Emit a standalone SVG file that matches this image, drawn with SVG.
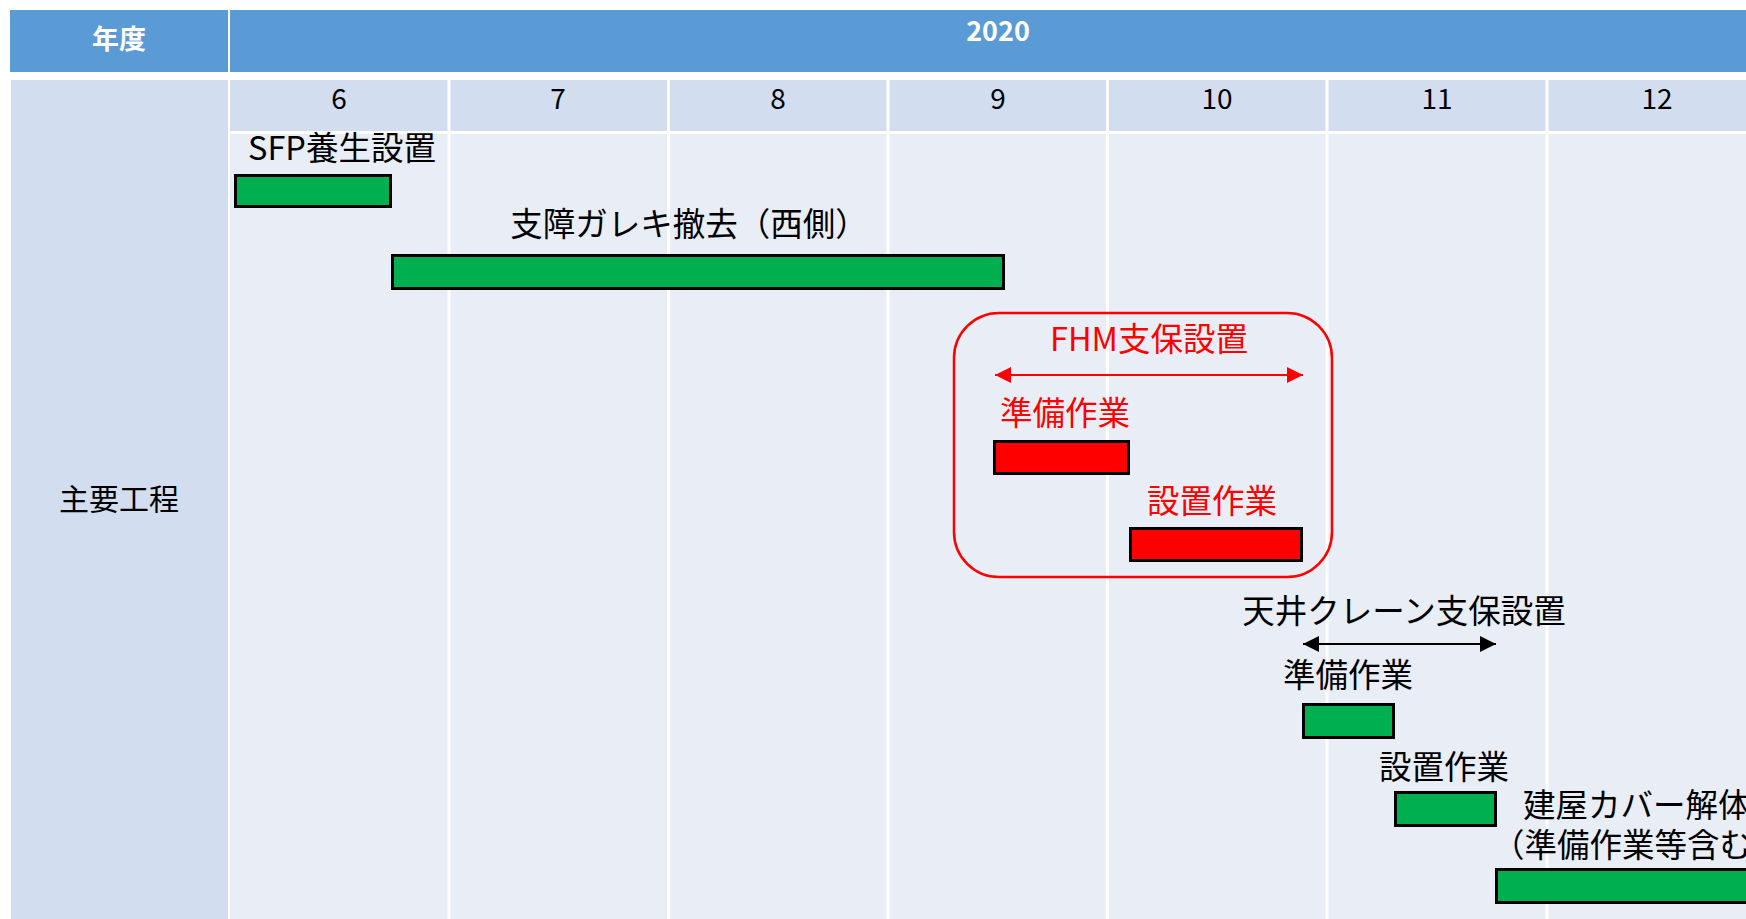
<svg xmlns="http://www.w3.org/2000/svg" width="1746" height="919" viewBox="0 0 1746 919">
<defs>
<style>
text{font-family:"Noto Sans CJK JP","Noto Sans",sans-serif;dominant-baseline:central}
.hd{fill:#FFFFFF;font-weight:bold;font-size:27px;text-anchor:middle}
.mo{fill:#000000;font-size:28px;text-anchor:middle}
.lb{fill:#000000;font-size:32.5px;text-anchor:middle}
.lbs{fill:#000000;font-size:32.5px}
.rl{fill:#FF0000;font-size:32.5px;text-anchor:middle}
.gb{fill:#00B050;stroke:#000000;stroke-width:3}
.rb{fill:#FF0000;stroke:#000000;stroke-width:3}
.grid{stroke:#FFFFFF;stroke-width:3}
</style>
<marker id="ar" viewBox="0 0 16 16" refX="16" refY="8" markerWidth="16" markerHeight="16" markerUnits="userSpaceOnUse" orient="auto-start-reverse"><path d="M0,0 L16,8 L0,16 Z" fill="#FF0000"/></marker>
<marker id="ab" viewBox="0 0 16 16" refX="16" refY="8" markerWidth="16" markerHeight="16" markerUnits="userSpaceOnUse" orient="auto-start-reverse"><path d="M0,0 L16,8 L0,16 Z" fill="#000000"/></marker>
</defs>
<rect x="0" y="0" width="1746" height="919" fill="#FFFFFF"/>
<g id="table">
<rect x="10" y="10" width="218" height="62" fill="#5B9BD5"/>
<rect x="230" y="10" width="1516" height="62" fill="#5B9BD5"/>
<rect x="11" y="80" width="217" height="839" fill="#D2DEEF"/>
<rect x="230" y="80" width="1516" height="51" fill="#D2DEEF"/>
<rect x="230" y="134" width="1516" height="785" fill="#E9EDF6"/>
<g class="grid">
<line x1="449" y1="80" x2="449" y2="919"/>
<line x1="668.5" y1="80" x2="668.5" y2="919"/>
<line x1="888" y1="80" x2="888" y2="919"/>
<line x1="1107.5" y1="80" x2="1107.5" y2="919"/>
<line x1="1327" y1="80" x2="1327" y2="919"/>
<line x1="1547" y1="80" x2="1547" y2="919"/>
</g>
<text class="hd" x="119" y="37">年度</text>
<text class="hd" x="998" y="29">2020</text>
<text class="mo" x="339" y="97">6</text>
<text class="mo" x="558" y="97">7</text>
<text class="mo" x="778" y="97">8</text>
<text class="mo" x="998" y="97">9</text>
<text class="mo" x="1217" y="97">10</text>
<text class="mo" x="1437" y="97">11</text>
<text class="mo" x="1657" y="97">12</text>
<text class="lb" x="119" y="497" style="font-size:30px">主要工程</text>
</g>
<g id="sfp">
<text class="lb" x="342" y="145">SFP養生設置</text>
<rect class="gb" x="235.5" y="175.5" width="155" height="31"/>
</g>
<g id="garekiw">
<text class="lb" x="689" y="221">支障ガレキ撤去（西側）</text>
<rect class="gb" x="392.5" y="255.5" width="611" height="33"/>
</g>
<g id="fhm">
<rect x="954" y="313" width="378" height="264" rx="45" ry="45" fill="none" stroke="#FF0000" stroke-width="2.5"/>
<text class="rl" x="1149" y="336">FHM支保設置</text>
</g>
<g id="fhm-prep">
<text class="rl" x="1065" y="410">準備作業</text>
<rect class="rb" x="994.5" y="441.5" width="134" height="32"/>
</g>
<g id="fhm-inst">
<text class="rl" x="1212" y="498">設置作業</text>
<rect class="rb" x="1130.5" y="528.5" width="171" height="32"/>
</g>
<g id="crane">
<text class="lb" x="1404" y="608">天井クレーン支保設置</text>
</g>
<g id="crane-prep">
<text class="lb" x="1348" y="672">準備作業</text>
<rect class="gb" x="1303.5" y="704.5" width="90" height="33"/>
</g>
<g id="crane-inst">
<text class="lb" x="1444" y="764">設置作業</text>
<rect class="gb" x="1395.5" y="792.5" width="100" height="33"/>
</g>
<g id="cover">
<text class="lbs" x="1523" y="802">建屋カバー解体</text>
<text class="lbs" x="1492" y="842">（準備作業等含む</text>
<rect class="gb" x="1496.5" y="869.5" width="300" height="33"/>
</g>
<g id="connectors">
<line x1="995" y1="375" x2="1303" y2="375" stroke="#FF0000" stroke-width="1.8" marker-start="url(#ar)" marker-end="url(#ar)"/>
<line x1="1303" y1="644" x2="1496" y2="644" stroke="#000000" stroke-width="1.8" marker-start="url(#ab)" marker-end="url(#ab)"/>
</g>
</svg>
